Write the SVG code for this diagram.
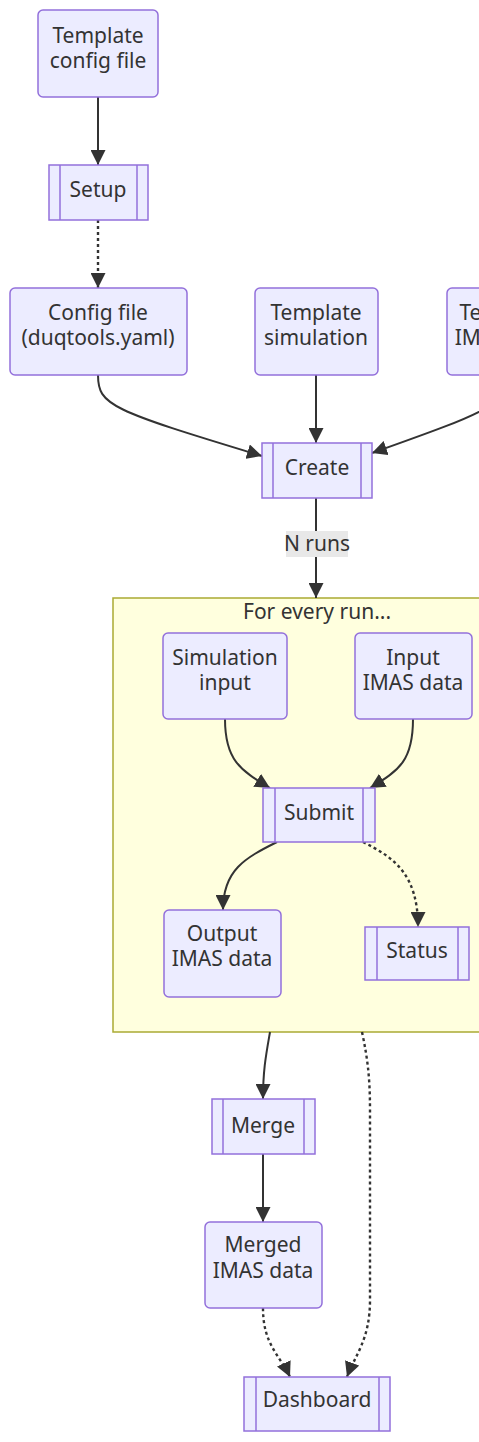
<svg xmlns="http://www.w3.org/2000/svg" width="479" height="1442" viewBox="0 0 479 1442">
<style>
.n{fill:#ECECFF;stroke:#9370DB;stroke-width:1.5}
.sub{fill:none;stroke:#9370DB;stroke-width:1.5}
.t{font-family:"Noto Sans","Liberation Sans",sans-serif;font-size:21px;fill:#333;text-anchor:middle}
.e{fill:none;stroke:#333;stroke-width:2}
.d{stroke-dasharray:3 3;stroke-width:2.4}
</style>
<defs>
<marker id="ah" viewBox="0 0 10 10" refX="10" refY="5" markerWidth="15" markerHeight="15" markerUnits="userSpaceOnUse" orient="auto">
<path d="M0,0 L10,5 L0,10 z" fill="#333"/>
</marker>
</defs>
<rect width="479" height="1442" fill="#fff"/>
<g id="cluster">
<rect x="113" y="598" width="400" height="434" fill="#ffffde" stroke="#aaaa33" stroke-width="1.5"/>
<text class="t" x="317" y="619">For every run...</text>
</g>
<g id="edges">
<path class="e" d="M98,97 L98,165" marker-end="url(#ah)"/>
<path class="e d" d="M98,220 L98,288" marker-end="url(#ah)"/>
<path class="e" d="M98,375 C98,405 110,410 262,456" marker-end="url(#ah)"/>
<path class="e" d="M316,375 L316,443" marker-end="url(#ah)"/>
<path class="e" d="M505,375 C505,405 493,410 372,453" marker-end="url(#ah)"/>
<path class="e" d="M316,498 L316,598" marker-end="url(#ah)"/>
<path class="e" d="M225,719 C225,760 240,770 270,788" marker-end="url(#ah)"/>
<path class="e" d="M413,719 C413,760 400,770 370,788" marker-end="url(#ah)"/>
<path class="e" d="M277,842 C245,858 223,870 223,910" marker-end="url(#ah)"/>
<path class="e d" d="M363,842 C395,858 418,875 418,927" marker-end="url(#ah)"/>
<path class="e" d="M270,1032 C266,1055 263,1070 263,1099" marker-end="url(#ah)"/>
<path class="e" d="M263,1154 L263,1222" marker-end="url(#ah)"/>
<path class="e d" d="M263,1308 C263,1345 280,1355 290,1377" marker-end="url(#ah)"/>
<path class="e d" d="M362,1032 C368,1060 370,1080 370,1110 L370,1300 C370,1340 355,1355 347,1377" marker-end="url(#ah)"/>
<g id="label-nruns">
<rect x="286" y="531" width="62" height="26" fill="#e8e8e8"/>
<text class="t" x="317" y="551">N runs</text>
</g>
</g>
<g id="template-config">
<rect class="n" x="38" y="10" width="120" height="87" rx="5"/>
<text class="t" x="98" y="43">Template</text>
<text class="t" x="98" y="68">config file</text>
</g>
<g id="setup">
<rect class="n" x="49" y="165" width="99" height="55"/>
<line class="sub" x1="60" y1="165" x2="60" y2="220"/>
<line class="sub" x1="137" y1="165" x2="137" y2="220"/>
<text class="t" x="98" y="197">Setup</text>
</g>
<g id="config-file">
<rect class="n" x="10" y="288" width="177" height="87" rx="5"/>
<text class="t" x="98" y="320">Config file</text>
<text class="t" x="98" y="345">(duqtools.yaml)</text>
</g>
<g id="template-simulation">
<rect class="n" x="255" y="288" width="123" height="87" rx="5"/>
<text class="t" x="316" y="320">Template</text>
<text class="t" x="316" y="345">simulation</text>
</g>
<g id="template-imas">
<rect class="n" x="447" y="288" width="117" height="87" rx="5"/>
<text class="t" x="505" y="320">Template</text>
<text class="t" x="505" y="345">IMAS data</text>
</g>
<g id="create">
<rect class="n" x="262" y="443" width="110" height="55"/>
<line class="sub" x1="273" y1="443" x2="273" y2="498"/>
<line class="sub" x1="361" y1="443" x2="361" y2="498"/>
<text class="t" x="317" y="475">Create</text>
</g>
<g id="simulation-input">
<rect class="n" x="163" y="633" width="124" height="86" rx="5"/>
<text class="t" x="225" y="665">Simulation</text>
<text class="t" x="225" y="690">input</text>
</g>
<g id="input-imas">
<rect class="n" x="355" y="633" width="117" height="86" rx="5"/>
<text class="t" x="413" y="665">Input</text>
<text class="t" x="413" y="690">IMAS data</text>
</g>
<g id="submit">
<rect class="n" x="263" y="788" width="112" height="54"/>
<line class="sub" x1="275" y1="788" x2="275" y2="842"/>
<line class="sub" x1="363" y1="788" x2="363" y2="842"/>
<text class="t" x="319" y="820">Submit</text>
</g>
<g id="output-imas">
<rect class="n" x="164" y="910" width="117" height="87" rx="5"/>
<text class="t" x="222" y="941">Output</text>
<text class="t" x="222" y="966">IMAS data</text>
</g>
<g id="status">
<rect class="n" x="365" y="927" width="104" height="53"/>
<line class="sub" x1="377" y1="927" x2="377" y2="980"/>
<line class="sub" x1="458" y1="927" x2="458" y2="980"/>
<text class="t" x="417" y="958">Status</text>
</g>
<g id="merge">
<rect class="n" x="212" y="1099" width="103" height="55"/>
<line class="sub" x1="223" y1="1099" x2="223" y2="1154"/>
<line class="sub" x1="304" y1="1099" x2="304" y2="1154"/>
<text class="t" x="263" y="1133">Merge</text>
</g>
<g id="merged-imas">
<rect class="n" x="205" y="1222" width="117" height="86" rx="5"/>
<text class="t" x="263" y="1252">Merged</text>
<text class="t" x="263" y="1278">IMAS data</text>
</g>
<g id="dashboard">
<rect class="n" x="244" y="1377" width="146" height="54"/>
<line class="sub" x1="256" y1="1377" x2="256" y2="1431"/>
<line class="sub" x1="379" y1="1377" x2="379" y2="1431"/>
<text class="t" x="317" y="1407">Dashboard</text>
</g>
</svg>
